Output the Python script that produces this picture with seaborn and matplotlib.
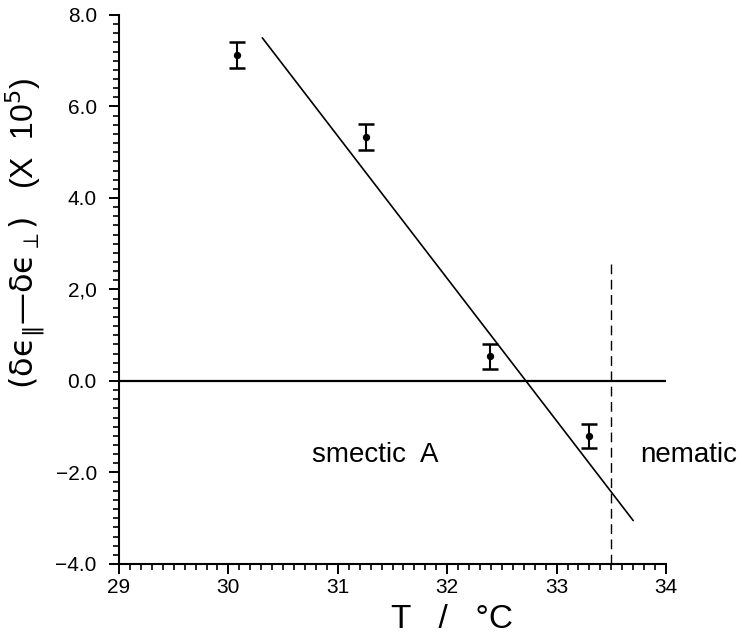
import matplotlib
matplotlib.use("Agg")
import matplotlib.pyplot as plt
from matplotlib.ticker import MultipleLocator, FixedLocator, FixedFormatter
import pandas as pd
import seaborn as sns

# Measured dielectric anisotropy difference vs temperature
temperature = [30.08, 31.26, 32.39, 33.30]
delta_eps = [7.13, 5.33, 0.54, -1.20]
delta_err = [0.28, 0.28, 0.27, 0.27]

# Linear fit through the smectic A data
fit_T = [30.31, 33.70]
fit_val = [7.50, -3.05]

# Smectic A / nematic transition temperature
transition_T = 33.5
transition_top = 2.6

x_ticks = [29, 30, 31, 32, 33, 34]
x_tick_labels = ["29", "30", "31", "32", "33", "34"]
y_ticks = [-4, -2, 0, 2, 4, 6, 8]
y_tick_labels = ["\u22124.0", "\u22122.0", "0.0", "2,0", "4.0", "6.0", "8.0"]

points = pd.DataFrame({"T": temperature, "d": delta_eps, "err": delta_err})
fit = pd.DataFrame({"T": fit_T, "d": fit_val})

sns.set_style("ticks")
plt.rcParams["font.family"] = ["Liberation Sans", "DejaVu Sans"]
plt.rcParams["mathtext.fontset"] = "dejavusans"
plt.rcParams["text.color"] = "black"
plt.rcParams["xtick.color"] = "black"
plt.rcParams["ytick.color"] = "black"

fig = plt.figure(figsize=(7.42, 6.38), dpi=100)
ax = fig.add_axes([0.1604, 0.116, 0.7372, 0.8605])

# zero reference line
ax.axhline(0.0, color="black", lw=1.6, zorder=1)

# phase boundary
ax.plot([transition_T, transition_T], [-4, transition_top], color="black",
        lw=1.0, dashes=(7, 4), zorder=1)

# fitted line
sns.lineplot(data=fit, x="T", y="d", color="black", lw=1.2, ax=ax, zorder=2)

# data with error bars
ax.errorbar(points["T"], points["d"], yerr=points["err"], fmt="none",
            ecolor="black", elinewidth=1.5, capsize=6, capthick=1.8, zorder=3)
sns.scatterplot(data=points, x="T", y="d", color="black", s=28,
                edgecolor="black", linewidth=0, ax=ax, zorder=4)

ax.set_xlim(29, 34)
ax.set_ylim(-4, 8)

ax.xaxis.set_major_locator(FixedLocator(x_ticks))
ax.xaxis.set_major_formatter(FixedFormatter(x_tick_labels))
ax.xaxis.set_minor_locator(MultipleLocator(0.1))
ax.yaxis.set_major_locator(FixedLocator(y_ticks))
ax.yaxis.set_major_formatter(FixedFormatter(y_tick_labels))
ax.yaxis.set_minor_locator(MultipleLocator(0.2))

ax.tick_params(axis="both", which="major", direction="out", length=7,
               width=1.4, labelsize=15, color="black", labelcolor="black")
ax.tick_params(axis="both", which="minor", direction="out", length=4.5,
               width=1.2, color="black")
ax.tick_params(axis="x", which="major", pad=3)
ax.tick_params(axis="y", which="major", pad=9)

for side in ("top", "right"):
    ax.spines[side].set_visible(False)
for side in ("left", "bottom"):
    ax.spines[side].set_linewidth(1.5)
    ax.spines[side].set_color("black")

ax.set_xlabel("T   /   \u00b0C", fontsize=24, color="black")
ax.xaxis.set_label_coords(0.609, -0.072)

eps = "\u03f5"
ylabel = ("$(\\mathrm{\\delta" + eps + "}_{\\Vert}$" + "\u2014"
          + "$\\mathrm{\\delta" + eps + "}_{\\perp})$"
          + "   (X  10$^{5}$)")
ax.set_ylabel(ylabel, fontsize=23, color="black")
ax.yaxis.label.set_verticalalignment("center")
ax.yaxis.label.set_horizontalalignment("center")
ax.yaxis.set_label_coords(-0.172, 0.603)

ax.text(30.76, -1.77, "smectic  A", fontsize=20, ha="left", va="baseline")
ax.text(33.76, -1.77, "nematic", fontsize=20, ha="left", va="baseline",
        clip_on=False)

fig.savefig("out.png", dpi=100)
